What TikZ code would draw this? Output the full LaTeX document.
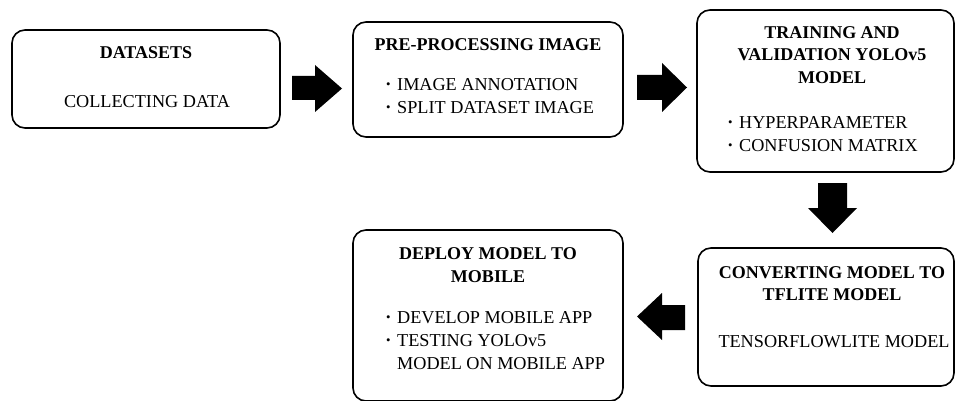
\documentclass[tikz,border=0pt]{standalone}
\usepackage{fontspec}
\setmainfont{Liberation Serif}
\usepackage{graphicx}
\newcommand{\bul}{\makebox[11pt][l]{\raisebox{2pt}{\scalebox{0.7}{•}}}}
\begin{document}
\begin{tikzpicture}[x=1pt,y=-1pt,
  box/.style={draw=black,line width=1.6pt,rounded corners=13pt},
  txt/.style={inner sep=0pt,font=\fontsize{18.2}{22.7}\selectfont,align=center},
  btxt/.style={txt,font=\fontsize{18}{22.7}\selectfont\bfseries},
  ltxt/.style={txt,align=left,anchor=west},
  blockarrow/.style={fill=black}]
\useasboundingbox (0,0) rectangle (955,401);
\begin{scope}
\clip (0,0) rectangle (955,401);
% boxes
\draw[box] (12,30) rectangle (280,128);
\draw[box] (353,22) rectangle (623,137);
\draw[box] (697,10) rectangle (954,172);
\draw[box] (698,248) rectangle (954,386);
\draw[box] (353,230) rectangle (623,401);
\end{scope}
% texts
\node[btxt] (t1) at (146,53) {DATASETS};
\node[txt] (t1b) at (147,102) {COLLECTING DATA};
\node[btxt] (t2) at (488,45) {PRE-PROCESSING IMAGE};
\node[ltxt] (t2b) at (386,96) {\bul IMAGE ANNOTATION\\ \bul SPLIT DATASET IMAGE};
\node[btxt] (t3) at (832,55) {TRAINING AND\\ VALIDATION YOLOv5\\ MODEL};
\node[ltxt] (t3b) at (728,134) {\bul HYPERPARAMETER\\ \bul CONFUSION MATRIX};
\node[btxt] (t5) at (832,283.5) {CONVERTING MODEL TO\\ TFLITE MODEL};
\node[txt] (t5b) at (834,342) {TENSORFLOWLITE MODEL};
\node[btxt] (t4) at (488,265) {DEPLOY MODEL TO\\ MOBILE};
\node[ltxt] (t4b) at (386,340.5) {\bul DEVELOP MOBILE APP\\ \bul TESTING YOLOv5\\ \hspace*{11pt}MODEL ON MOBILE APP};
% block arrows
\fill[blockarrow] (292,76) -- (315,76) -- (315,65) -- (342,88.5) -- (315,112) -- (315,100) -- (292,100) -- cycle;
\fill[blockarrow] (637,75) -- (662,75) -- (662,63) -- (687,87.5) -- (662,112) -- (662,100) -- (637,100) -- cycle;
\fill[blockarrow] (818,183) -- (847,183) -- (847,208) -- (857,208) -- (832.5,233) -- (808,208) -- (818,208) -- cycle;
\fill[blockarrow] (685,305) -- (662,305) -- (662,293) -- (637,316.5) -- (662,340) -- (662,330) -- (685,330) -- cycle;
\end{tikzpicture}
\end{document}
